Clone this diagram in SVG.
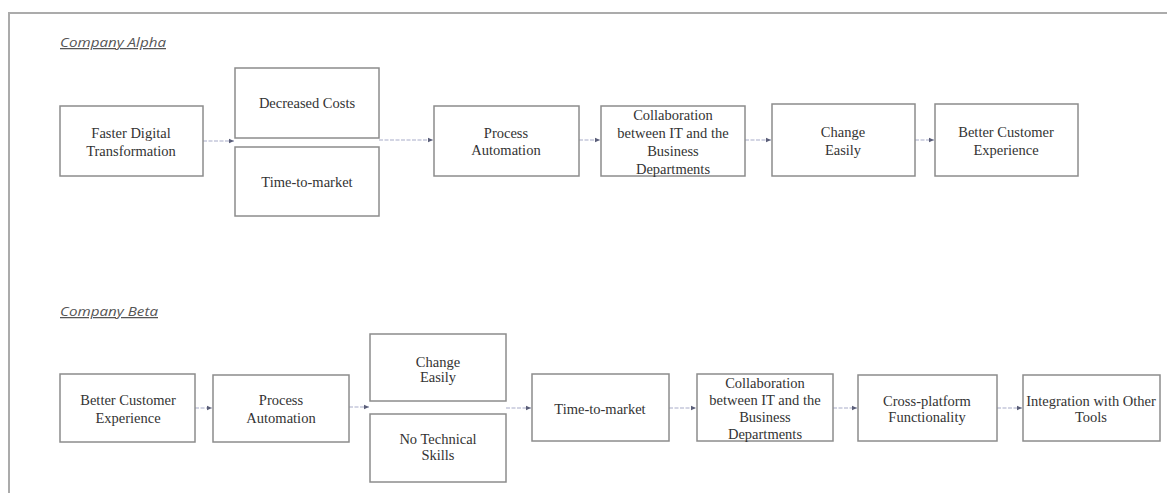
<svg xmlns="http://www.w3.org/2000/svg" width="1167" height="493" viewBox="0 0 1167 493">
<style>
.box{fill:#fff;stroke:#8c8c8c;stroke-width:1.5}
.t{font-family:"Liberation Serif",serif;font-size:14.5px;fill:#333;text-anchor:middle}
.h{font-family:"Open Sans","Liberation Sans",sans-serif;font-style:italic;font-size:12.5px;fill:#555;text-decoration:underline}
.c{stroke:#a7abc8;stroke-width:1;fill:none;stroke-dasharray:4 1.5}
</style>
<defs>
<marker id="ah" markerWidth="6" markerHeight="6" refX="5" refY="3" orient="auto" markerUnits="userSpaceOnUse">
<path d="M0,0.8 L5,3 L0,5.2 z" fill="#5a5e78"/>
</marker>
</defs>
<rect x="0" y="0" width="1167" height="493" fill="#fff"/>
<g id="frame">
<path d="M9,493 V13 H1167" fill="none" stroke="#ababab" stroke-width="2"/>
</g>
<g id="titles">
<text class="h" x="60" y="47" textLength="106" lengthAdjust="spacingAndGlyphs">Company Alpha</text>
<text class="h" x="60" y="316" textLength="98" lengthAdjust="spacingAndGlyphs">Company Beta</text>
</g>
<g id="connectors">
<line class="c" x1="203" y1="141" x2="234" y2="141" marker-end="url(#ah)"/>
<line class="c" x1="379" y1="140" x2="433" y2="140" marker-end="url(#ah)"/>
<line class="c" x1="579" y1="140" x2="600" y2="140" marker-end="url(#ah)"/>
<line class="c" x1="745" y1="140" x2="771" y2="140" marker-end="url(#ah)"/>
<line class="c" x1="915" y1="140" x2="934" y2="140" marker-end="url(#ah)"/>
<line class="c" x1="195" y1="408" x2="212" y2="408" marker-end="url(#ah)"/>
<line class="c" x1="349" y1="407" x2="369" y2="407" marker-end="url(#ah)"/>
<line class="c" x1="506" y1="408" x2="531" y2="408" marker-end="url(#ah)"/>
<line class="c" x1="669" y1="408" x2="696" y2="408" marker-end="url(#ah)"/>
<line class="c" x1="833" y1="408" x2="857" y2="408" marker-end="url(#ah)"/>
<line class="c" x1="997" y1="408" x2="1022" y2="408" marker-end="url(#ah)"/>
</g>
<g id="a1"><rect class="box" x="60" y="106" width="143" height="70"/><text class="t" x="131" y="138">Faster Digital</text><text class="t" x="131" y="156">Transformation</text></g>
<g id="a2"><rect class="box" x="235" y="68" width="144" height="70"/><text class="t" x="307" y="108">Decreased Costs</text></g>
<g id="a3"><rect class="box" x="235" y="147" width="144" height="69"/><text class="t" x="307" y="187">Time-to-market</text></g>
<g id="a4"><rect class="box" x="434" y="106" width="145" height="70"/><text class="t" x="506" y="138">Process</text><text class="t" x="506" y="155">Automation</text></g>
<g id="a5"><rect class="box" x="601" y="106" width="144" height="70"/><text class="t" x="673" y="120">Collaboration</text><text class="t" x="673" y="138">between IT and the</text><text class="t" x="673" y="156">Business</text><text class="t" x="673" y="174">Departments</text></g>
<g id="a6"><rect class="box" x="772" y="104" width="143" height="72"/><text class="t" x="843" y="137">Change</text><text class="t" x="843" y="155">Easily</text></g>
<g id="a7"><rect class="box" x="935" y="104" width="143" height="72"/><text class="t" x="1006" y="137">Better Customer</text><text class="t" x="1006" y="155">Experience</text></g>
<g id="b1"><rect class="box" x="60" y="374" width="135" height="68"/><text class="t" x="128" y="405">Better Customer</text><text class="t" x="128" y="423">Experience</text></g>
<g id="b2"><rect class="box" x="213" y="375" width="136" height="67"/><text class="t" x="281" y="405">Process</text><text class="t" x="281" y="423">Automation</text></g>
<g id="b3"><rect class="box" x="370" y="334" width="136" height="67"/><text class="t" x="438" y="367">Change</text><text class="t" x="438" y="382">Easily</text></g>
<g id="b4"><rect class="box" x="370" y="414" width="136" height="68"/><text class="t" x="438" y="444">No Technical</text><text class="t" x="438" y="460">Skills</text></g>
<g id="b5"><rect class="box" x="532" y="374" width="137" height="67"/><text class="t" x="600" y="414">Time-to-market</text></g>
<g id="b6"><rect class="box" x="697" y="374" width="136" height="67"/><text class="t" x="765" y="388">Collaboration</text><text class="t" x="765" y="405">between IT and the</text><text class="t" x="765" y="422">Business</text><text class="t" x="765" y="439">Departments</text></g>
<g id="b7"><rect class="box" x="858" y="375" width="139" height="66"/><text class="t" x="927" y="406">Cross-platform</text><text class="t" x="927" y="422">Functionality</text></g>
<g id="b8"><rect class="box" x="1023" y="375" width="137" height="66"/><text class="t" x="1091" y="406">Integration with Other</text><text class="t" x="1091" y="422">Tools</text></g>
</svg>
